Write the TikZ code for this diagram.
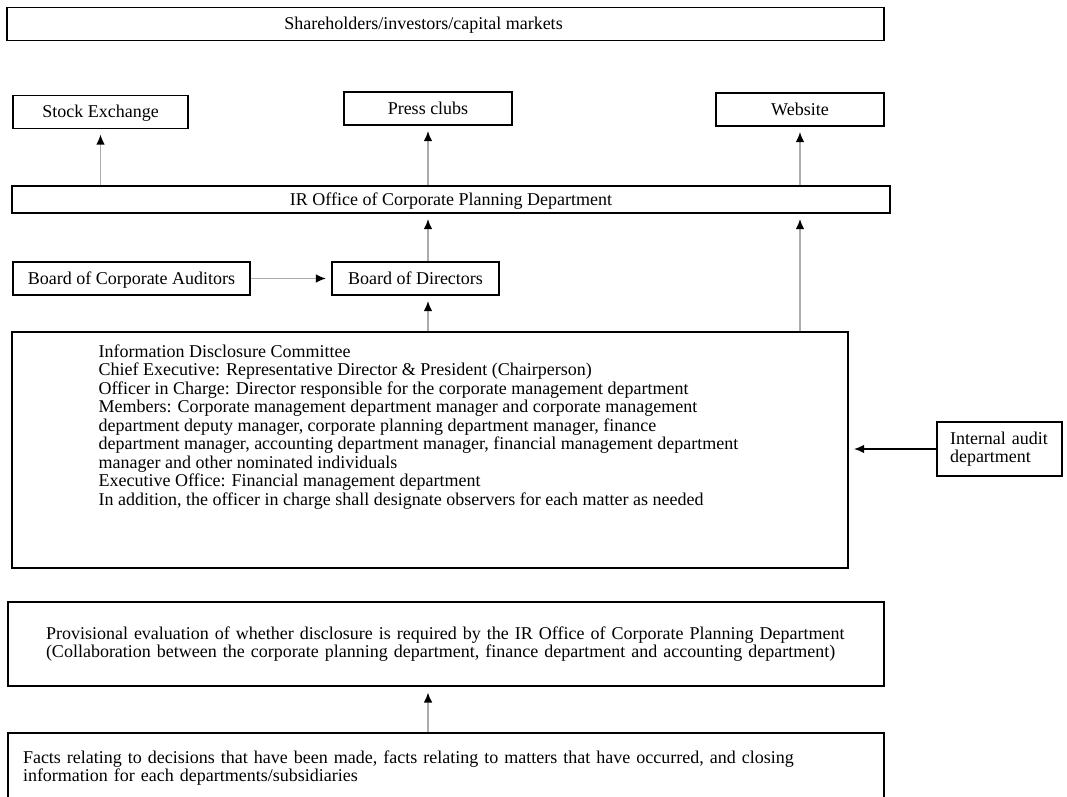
\documentclass[tikz,border=0pt]{standalone}
\usepackage{fontspec}
\setmainfont{Liberation Serif}
\usepackage{tikz}
\usetikzlibrary{arrows.meta, calc}
\newcommand\chartfont{\fontsize{13.5pt}{13.9pt}\selectfont}
\tikzstyle{box} = [draw, line width=1.1pt, inner sep=0pt, minimum height=24.75pt, font=\chartfont]
\tikzstyle{oneline} = [text height=11pt, text depth=2.5pt]
\tikzstyle{arr} = [draw=gray!65, line width=1.1pt, shorten >=4pt, -{Latex[length=7.5pt, width=6.5pt, color=black]}]

\begin{document}
\begin{tikzpicture}[x=0.75pt, y=-0.75pt]
        \useasboundingbox (0,0) rectangle (1067,796);
        \clip (0,0) rectangle (1067,796);
        \node (market) [box, oneline, minimum width=657.75pt] at (445.5,24) {Shareholders/investors/capital\ markets\kern33pt};
        \node (stock) [box, oneline, minimum width=131.25pt] at (100.5,112) {Stock Exchange};
        \node (press) [box, oneline, minimum width=126pt] at (428,108.5) {Press clubs};
        \node (web) [box, oneline, minimum width=126pt] at (800,109.5) {Website};
        \node (ir) [box, oneline, minimum width=658.5pt, minimum height=20.25pt] at (451,199.5) {IR Office of Corporate Planning Department};
        \node (aud) [box, oneline, minimum width=177.75pt] at (131.5,278.5) {Board of Corporate Auditors};
        \node (dir) [box, oneline, minimum width=125.25pt] at (415.5,278.5) {Board of Directors};
        \node (idc) [box, minimum width=627pt, minimum height=177pt] at (430,450) {};
        \node (idctext) [anchor=north west, inner sep=0pt, align=left, font=\chartfont] at ($(idc.north west)+(87,13)$) {Information Disclosure Committee\\
            Chief Executive: Representative Director \& President (Chairperson)\\
            Officer in Charge: Director responsible for the corporate management department\\
            Members: Corporate management department manager and corporate management\\
            department deputy manager, corporate planning department manager, finance\\
            department manager, accounting department manager, financial management department\\
            manager and other nominated individuals\\
            Executive Office: Financial management department\\
            In addition, the officer in charge shall designate observers for each matter as needed};
        \node (audit) [box, minimum height=40.5pt, inner xsep=9.75pt, text width=74.25pt, align=left] at (999.5,449) {Internal audit\\department};
        \node (prov) [box, line width=1.8pt, minimum height=63pt, inner xsep=28.5pt, text width=600pt, align=left] at (446,644) {Provisional evaluation of whether disclosure is required by the IR Office of Corporate Planning Department\\
            (Collaboration between the corporate planning department, finance department and accounting department)};
        \node (facts) [box, line width=1.4pt, minimum height=52.5pt, inner xsep=11.25pt, text width=634.5pt, align=left] at (446,768) {Facts relating to decisions that have been made, facts relating to matters that have occurred, and closing\\
            information for each departments/subsidiaries};
        \draw [arr] (ir.north -| stock) -- (stock);
        \draw [arr] (ir.north -| press) -- (press);
        \draw [arr] (ir.north -| web) -- (web);
        \draw [arr] (dir.north -| press) -- (ir.south -| press);
        \draw [arr] (aud) -- (dir);
        \draw [arr] (idc.north -| press) -- (dir.south -| press);
        \draw [arr] (idc.north -| web) -- (ir.south -| web);
        \draw [arr, draw=black] (audit.west) -- (idc.east |- audit.west);
        \draw [arr] (facts.north -| press) -- (prov.south -| press);
    \end{tikzpicture}
\end{document}
